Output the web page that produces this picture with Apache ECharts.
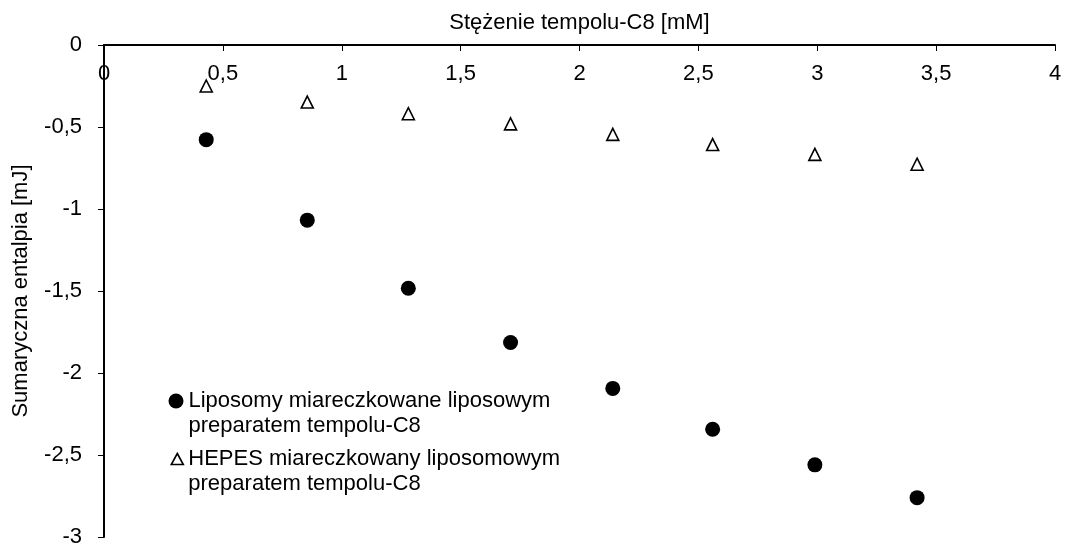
<!DOCTYPE html>
<html>
<head>
<meta charset="utf-8">
<script src="https://cdn.jsdelivr.net/npm/echarts@6/dist/echarts.min.js"></script>
<style>
  html, body { margin: 0; padding: 0; background: #fff; }
  #chart { width: 1080px; height: 548px; }
</style>
</head>
<body>
<div id="chart"></div>
<script>
// Tempol-C8 concentration [mM] after each injection
const concentration = [0.43, 0.855, 1.28, 1.71, 2.14, 2.56, 2.99, 3.42];

// Cumulative enthalpy [mJ]
const liposomeEnthalpy = [-0.577, -1.068, -1.483, -1.814, -2.094, -2.343, -2.56, -2.76];
const hepesEnthalpy = [-0.25, -0.348, -0.419, -0.481, -0.545, -0.607, -0.667, -0.727];

const seriesNames = [
  'Liposomy miareczkowane liposowym\npreparatem tempolu-C8',
  'HEPES miareczkowany liposomowym\npreparatem tempolu-C8'
];

const xAxisTitle = 'Stężenie tempolu-C8 [mM]';
const yAxisTitle = 'Sumaryczna entalpia [mJ]';

const FONT = 'Liberation Sans, Arial, sans-serif';
const FS = 22;

function pairs(xs, ys) {
  return xs.map((x, i) => [x, ys[i]]);
}

function decimalComma(v) {
  return String(v).replace('.', ',');
}

// A blank leading line keeps the legend symbol level with the first text line
function legendText(name) {
  return ' \n' + name;
}

const circleStyle = { color: '#000', opacity: 1 };
const triangleStyle = { color: '#fff', borderColor: '#000', borderWidth: 1.6, opacity: 1 };

const legendTextStyle = {
  fontFamily: FONT,
  fontSize: FS,
  color: '#000',
  lineHeight: 25
};

const chart = echarts.init(document.getElementById('chart'), null, { renderer: 'canvas' });

chart.setOption({
  backgroundColor: '#ffffff',
  animation: false,
  textStyle: { fontFamily: FONT, color: '#000' },
  grid: { left: 104, right: 25, top: 45, bottom: 8, containLabel: false },
  xAxis: {
    type: 'value',
    position: 'top',
    min: 0,
    max: 4,
    interval: 0.5,
    name: xAxisTitle,
    nameLocation: 'middle',
    nameGap: 11,
    nameTextStyle: { fontFamily: FONT, fontSize: FS, color: '#000' },
    axisLine: { show: true, onZero: false, lineStyle: { color: '#000', width: 2 } },
    axisTick: { show: true, inside: true, length: 6, lineStyle: { color: '#000', width: 1 } },
    axisLabel: {
      inside: true,
      margin: 18,
      fontFamily: FONT,
      fontSize: FS,
      color: '#000',
      formatter: decimalComma
    },
    splitLine: { show: false }
  },
  yAxis: {
    type: 'value',
    min: -3,
    max: 0,
    interval: 0.5,
    name: yAxisTitle,
    nameLocation: 'middle',
    nameGap: 72,
    nameTextStyle: { fontFamily: FONT, fontSize: FS, color: '#000' },
    axisLine: { show: true, onZero: false, lineStyle: { color: '#000', width: 2 } },
    axisTick: { show: true, inside: false, length: 6, lineStyle: { color: '#000', width: 1 } },
    axisLabel: {
      margin: 22,
      fontFamily: FONT,
      fontSize: FS,
      color: '#000',
      formatter: decimalComma
    },
    splitLine: { show: false }
  },
  legend: [
    {
      orient: 'vertical',
      left: 163.5,
      top: 358.5,
      itemWidth: 15,
      itemHeight: 15,
      selectedMode: false,
      formatter: legendText,
      textStyle: legendTextStyle,
      data: [{ name: seriesNames[0], icon: 'circle', itemStyle: circleStyle }]
    },
    {
      orient: 'vertical',
      left: 165.5,
      top: 416.5,
      itemWidth: 12,
      itemHeight: 11,
      selectedMode: false,
      formatter: legendText,
      textStyle: legendTextStyle,
      data: [{ name: seriesNames[1], icon: 'triangle', itemStyle: triangleStyle }]
    }
  ],
  series: [
    {
      name: seriesNames[0],
      type: 'scatter',
      symbol: 'circle',
      symbolSize: 15,
      itemStyle: circleStyle,
      data: pairs(concentration, liposomeEnthalpy)
    },
    {
      name: seriesNames[1],
      type: 'scatter',
      symbol: 'triangle',
      symbolSize: 12,
      itemStyle: triangleStyle,
      data: pairs(concentration, hepesEnthalpy)
    }
  ]
});
</script>
</body>
</html>
